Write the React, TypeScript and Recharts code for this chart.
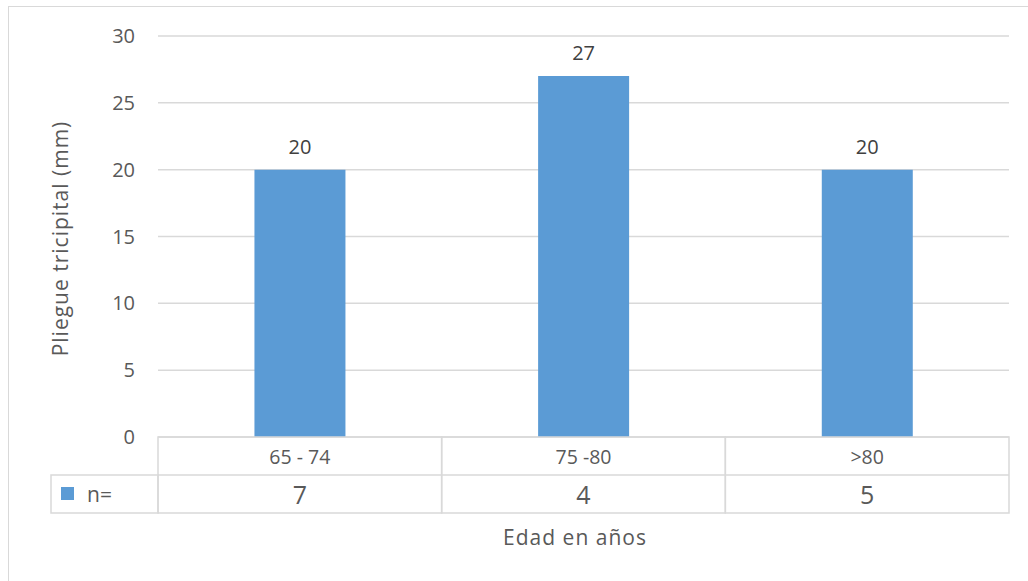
import { BarChart, Bar, XAxis, YAxis, CartesianGrid, LabelList } from 'recharts';

const categorias = ['65 - 74', '75 -80', '>80'];
const pliegue = [20, 27, 20];
const n = [7, 4, 5];
const yTicks = [0, 5, 10, 15, 20, 25, 30];

const data = categorias.map((c, i) => ({ edad: c, valor: pliegue[i], n: n[i] }));

const W = 1028;
const H = 581;
const margin = { top: 36, right: 19, bottom: 68, left: 0 };
const yAxisWidth = 158;
const rowH = 38;
const cellW = (W - margin.left - margin.right - yAxisWidth) / categorias.length;
const gris = '#d9d9d9';
const texto = '#595959';
const font = '"Open Sans", sans-serif';

function TablaTick(props: any) {
  const { x, y, payload, index } = props;
  const left = x - cellW / 2;
  return (
    <g>
      <rect x={left} y={y} width={cellW} height={rowH * 2} fill="none" stroke={gris} strokeWidth={1.5} />
      <line x1={left} x2={left + cellW} y1={y + rowH} y2={y + rowH} stroke={gris} strokeWidth={1.5} />
      <text x={x} y={y + rowH / 2} textAnchor="middle" dominantBaseline="central" fill={texto} fontSize={19.5} fontFamily={font}>
        {payload.value}
      </text>
      <text x={x} y={y + rowH * 1.5} textAnchor="middle" dominantBaseline="central" fill={texto} fontSize={25} fontFamily={font}>
        {n[index]}
      </text>
      {index === 0 && (
        <g>
          <rect x={51} y={y + rowH} width={left - 51} height={rowH} fill="none" stroke={gris} strokeWidth={1.5} />
          <rect x={61} y={y + rowH + 12} width={13} height={13} fill="#5B9BD5" />
          <text x={87} y={y + rowH * 1.5} dominantBaseline="central" fill={texto} fontSize={21} fontFamily={font}>
            n=
          </text>
        </g>
      )}
    </g>
  );
}

export default function App() {
  return (
    <div style={{ position: 'absolute', left: 0, top: 0, width: W, height: H, background: '#fff' }}>
      <div style={{ position: 'absolute', left: 8, top: 6, width: W, height: H, borderLeft: `1.5px solid ${gris}`, borderTop: `1.5px solid ${gris}` }} />
      <BarChart width={W} height={H} data={data} margin={margin} barCategoryGap="34%">
        <CartesianGrid vertical={false} stroke={gris} strokeWidth={1.5} />
        <YAxis
          width={yAxisWidth}
          domain={[0, 30]}
          ticks={yTicks}
          axisLine={false}
          tickLine={false}
          tickSize={0}
          tickMargin={23}
          tick={{ fill: texto, fontSize: 20, fontFamily: font }}
          label={{
            content: ({ viewBox }: any) => (
              <text
                x={60}
                y={viewBox.y + viewBox.height / 2 + 2}
                transform={`rotate(-90 60 ${viewBox.y + viewBox.height / 2 + 2})`}
                textAnchor="middle"
                dominantBaseline="central"
                fill={texto}
                fontSize={21}
                letterSpacing={1}
                fontFamily={font}
              >
                Pliegue tricipital (mm)
              </text>
            ),
          }}
        />
        <XAxis
          dataKey="edad"
          height={rowH * 2}
          axisLine={false}
          tickLine={false}
          tickSize={0}
          tickMargin={0}
          interval={0}
          tick={<TablaTick />}
          label={{
            content: () => (
              <text x={575} y={537} textAnchor="middle" dominantBaseline="central" fill={texto} fontSize={21} letterSpacing={1} fontFamily={font}>
                Edad en años
              </text>
            ),
          }}
        />
        <Bar dataKey="valor" fill="#5B9BD5" isAnimationActive={false}>
          <LabelList dataKey="valor" position="top" offset={16} fill="#404040" fontSize={20} fontFamily={font} />
        </Bar>
      </BarChart>
    </div>
  );
}
